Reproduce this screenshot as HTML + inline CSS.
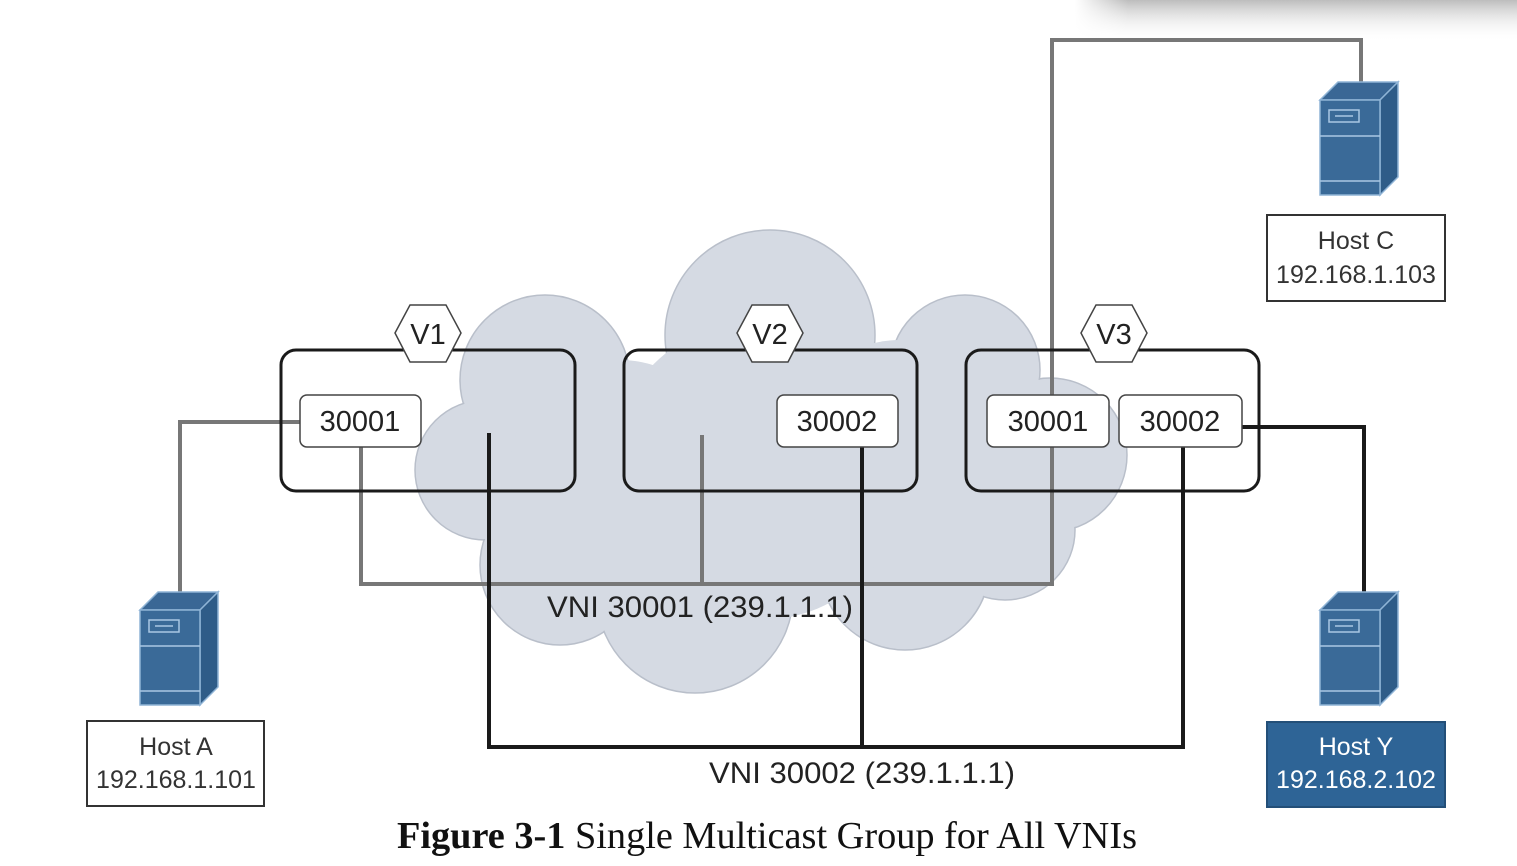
<!DOCTYPE html>
<html><head><meta charset="utf-8"><style>
html,body{margin:0;padding:0;background:#fff;width:1517px;height:866px;overflow:hidden}
svg{display:block}
</style></head><body>
<svg width="1517" height="866" viewBox="0 0 1517 866" xmlns="http://www.w3.org/2000/svg">
<defs>
<linearGradient id="sh" x1="0" y1="0" x2="0" y2="1">
<stop offset="0" stop-color="#bdbdbd"/><stop offset="1" stop-color="#fff" stop-opacity="0"/>
</linearGradient>
<linearGradient id="shx" x1="0" y1="0" x2="1" y2="0">
<stop offset="0" stop-color="#fff"/><stop offset="0.12" stop-color="#fff" stop-opacity="0"/>
</linearGradient>
<g id="srv">
<polygon points="0,18 18,0 78,0 60,18" fill="#3a6795" stroke="#8fb4d6" stroke-width="1.5"/>
<polygon points="60,18 78,0 78,95 60,113" fill="#2f5c88" stroke="#8fb4d6" stroke-width="1.5"/>
<rect x="0" y="18" width="60" height="95" fill="#3a6a98" stroke="#8fb4d6" stroke-width="1.5"/>
<rect x="9" y="28" width="30" height="12" fill="none" stroke="#a9c8e4" stroke-width="1.5"/>
<line x1="15" y1="34" x2="33" y2="34" stroke="#a9c8e4" stroke-width="1.5"/>
<line x1="0" y1="54" x2="60" y2="54" stroke="#a9c8e4" stroke-width="1.5"/>
<line x1="0" y1="99" x2="60" y2="99" stroke="#a9c8e4" stroke-width="1.5"/>
</g>
</defs>
<rect x="1075" y="0" width="442" height="42" fill="url(#sh)"/>
<rect x="1075" y="0" width="442" height="42" fill="url(#shx)"/>
<!-- cloud -->
<g fill="#d5dae3" stroke="#b9bfca" stroke-width="1.5">
<circle cx="770" cy="335" r="105"/>
<circle cx="545" cy="380" r="85"/>
<circle cx="485" cy="470" r="70"/>
<circle cx="560" cy="565" r="80"/>
<circle cx="695" cy="595" r="98"/>
<circle cx="905" cy="565" r="85"/>
<circle cx="1050" cy="455" r="77"/>
<circle cx="965" cy="370" r="75"/>
<circle cx="1005" cy="530" r="70"/>
</g>
<g fill="#d5dae3">
<circle cx="770" cy="335" r="104"/>
<circle cx="545" cy="380" r="84"/>
<circle cx="485" cy="470" r="69"/>
<circle cx="560" cy="565" r="79"/>
<circle cx="695" cy="595" r="97"/>
<circle cx="905" cy="565" r="84"/>
<circle cx="1050" cy="455" r="76"/>
<circle cx="965" cy="370" r="74"/>
<circle cx="1005" cy="530" r="69"/>
<circle cx="760" cy="470" r="150"/>
<circle cx="900" cy="450" r="110"/>
<circle cx="620" cy="470" r="110"/>
</g>
<!-- gray lines VNI 30001 -->
<g stroke="#777" stroke-width="4" fill="none">
<polyline points="180,592 180,422 300,422"/>
<polyline points="361,447 361,584 1052,584 1052,40 1361,40 1361,82"/>
<line x1="702" y1="435" x2="702" y2="584"/>
</g>
<!-- black lines VNI 30002 -->
<g stroke="#1a1a1a" stroke-width="4" fill="none">
<polyline points="489,433 489,747 1183,747 1183,447"/>
<line x1="862" y1="447" x2="862" y2="747"/>
<polyline points="1242,427 1364,427 1364,592"/>
</g>
<!-- VTEP boxes -->
<g fill="none" stroke="#1a1a1a" stroke-width="3">
<rect x="281" y="350" width="294" height="141" rx="15"/>
<rect x="624" y="350" width="293" height="141" rx="15"/>
<rect x="966" y="350" width="293" height="141" rx="15"/>
</g>
<!-- hexagons -->
<g fill="#fff" stroke="#444" stroke-width="1.5">
<polygon points="395,333 410,305 446,305 461,333 446,362 410,362"/>
<polygon points="737,333 752,305 788,305 803,333 788,362 752,362"/>
<polygon points="1081,333 1096,305 1132,305 1147,333 1132,362 1096,362"/>
</g>
<g font-family="Liberation Sans, sans-serif" font-size="29" fill="#222" text-anchor="middle">
<text x="428" y="344">V1</text>
<text x="770" y="344">V2</text>
<text x="1114" y="344">V3</text>
</g>
<!-- VNI boxes -->
<g fill="#fff" stroke="#444" stroke-width="1.5">
<rect x="300" y="395" width="121" height="52" rx="7"/>
<rect x="777" y="395" width="121" height="52" rx="7"/>
<rect x="987" y="395" width="122" height="52" rx="7"/>
<rect x="1119" y="395" width="123" height="52" rx="7"/>
</g>
<g font-family="Liberation Sans, sans-serif" font-size="29" fill="#222" text-anchor="middle">
<text x="360" y="431">30001</text>
<text x="837" y="431">30002</text>
<text x="1048" y="431">30001</text>
<text x="1180" y="431">30002</text>
</g>
<g font-family="Liberation Sans, sans-serif" font-size="30" fill="#222" text-anchor="middle" textLength="306">
<text x="700" y="617" textLength="306" lengthAdjust="spacingAndGlyphs">VNI 30001 (239.1.1.1)</text>
<text x="862" y="783" textLength="306" lengthAdjust="spacingAndGlyphs">VNI 30002 (239.1.1.1)</text>
</g>
<!-- servers -->
<use href="#srv" x="140" y="592"/>
<use href="#srv" x="1320" y="82"/>
<use href="#srv" x="1320" y="592"/>
<!-- host labels -->
<rect x="87" y="721" width="177" height="85" fill="#fff" stroke="#333" stroke-width="2"/>
<rect x="1267" y="215" width="178" height="86" fill="#fff" stroke="#333" stroke-width="2"/>
<rect x="1267" y="722" width="178" height="85" fill="#2e6496" stroke="#234f78" stroke-width="2"/>
<g font-family="Liberation Sans, sans-serif" font-size="25" fill="#333" text-anchor="middle">
<text x="176" y="755">Host A</text>
<text x="176" y="788">192.168.1.101</text>
<text x="1356" y="249">Host C</text>
<text x="1356" y="283">192.168.1.103</text>
<text x="1356" y="755" fill="#fff">Host Y</text>
<text x="1356" y="788" fill="#fff">192.168.2.102</text>
</g>
<text x="767" y="848" font-family="Liberation Serif, serif" font-size="38" fill="#111" text-anchor="middle" textLength="740" lengthAdjust="spacingAndGlyphs"><tspan font-weight="bold">Figure 3-1</tspan> Single Multicast Group for All VNIs</text>
</svg>
</body></html>
